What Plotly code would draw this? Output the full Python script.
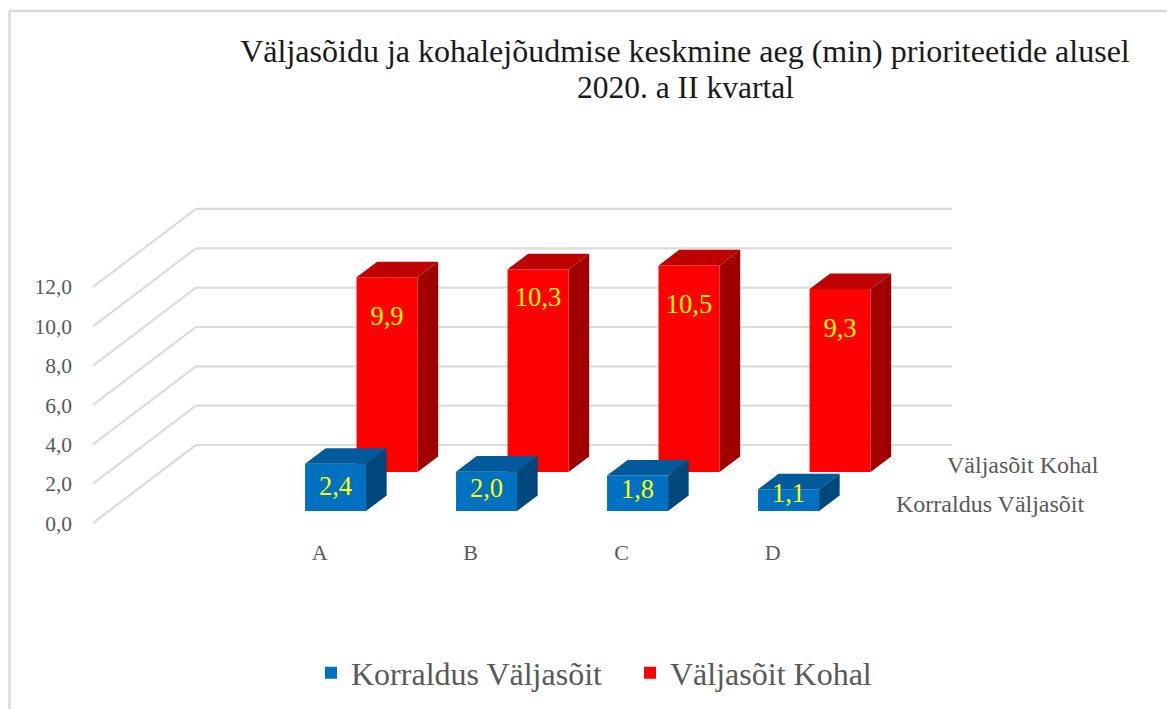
import plotly.graph_objects as go

categories = ["A", "B", "C", "D"]
series_names = ["Korraldus Väljasõit", "Väljasõit Kohal"]
korraldus = [2.4, 2.0, 1.8, 1.1]
kohal = [9.9, 10.3, 10.5, 9.3]
korraldus_labels = ["2,4", "2,0", "1,8", "1,1"]
kohal_labels = ["9,9", "10,3", "10,5", "9,3"]
y_ticks = [0, 2, 4, 6, 8, 10, 12]
y_tick_labels = ["0,0", "2,0", "4,0", "6,0", "8,0", "10,0", "12,0"]
title_lines = ["Väljasõidu ja kohalejõudmise keskmine aeg (min) prioriteetide alusel", "2020. a II kvartal"]

W, H = 1167, 709
L = 73
CAT_PX = 151.0
VAL_PX = 19.67
X_A_PX = 319.7
Y0_PX = 523.0
DEPTH_X = 103.0 / CAT_PX
DEPTH_Y = 78.0 / VAL_PX
BAR_W = 61.0 / CAT_PX
BAR_D = 0.2


def px(x):
    return (x - L) / (W - L)


def py(y):
    return 1 - y / H


xr = [(L - X_A_PX) / CAT_PX, (W - X_A_PX) / CAT_PX]
yr = [(Y0_PX - H) / VAL_PX, Y0_PX / VAL_PX]

fig = go.Figure()
shapes = []
front_x = (93 - X_A_PX) / CAT_PX
back_x = front_x + DEPTH_X
end_x = (952 - X_A_PX) / CAT_PX
for t in y_ticks:
    shapes.append(dict(type="line", xref="x", yref="y", layer="below",
                       x0=front_x, y0=t, x1=back_x, y1=t + DEPTH_Y,
                       line=dict(color="#dcdcdc", width=2.2)))
    shapes.append(dict(type="line", xref="x", yref="y", layer="below",
                       x0=back_x, y0=t + DEPTH_Y, x1=end_x, y1=t + DEPTH_Y,
                       line=dict(color="#dcdcdc", width=2.2)))
shapes.append(dict(type="line", xref="paper", yref="paper", x0=px(9.5), y0=py(11), x1=px(9.5), y1=py(709),
                   line=dict(color="#d9d9d9", width=2.5)))
shapes.append(dict(type="line", xref="paper", yref="paper", x0=px(9), y0=py(11), x1=px(1167), y1=py(11),
                   line=dict(color="#d9d9d9", width=2.5)))


def add_series(values, labels, name, depth, front, top, side, label_y):
    n = len(values)
    shift_x = depth * DEPTH_X
    shift_y = depth * DEPTH_Y
    xs = [i + shift_x for i in range(n)]
    fig.add_trace(go.Bar(x=xs, y=values, base=[shift_y] * n, width=BAR_W, name=name,
                         marker=dict(color=front, line=dict(width=0)), showlegend=True,
                         hoverinfo="skip"))
    ddx = BAR_D * DEPTH_X
    ddy = BAR_D * DEPTH_Y
    for xc, v in zip(xs, values):
        x0, x1 = xc - BAR_W / 2, xc + BAR_W / 2
        yb, yt = shift_y, shift_y + v
        fig.add_trace(go.Scatter(x=[x0, x1, x1 + ddx, x0 + ddx, x0], y=[yt, yt, yt + ddy, yt + ddy, yt],
                                 mode="lines", fill="toself", fillcolor=top, line=dict(width=0),
                                 showlegend=False, hoverinfo="skip"))
        fig.add_trace(go.Scatter(x=[x1, x1 + ddx, x1 + ddx, x1, x1], y=[yb, yb + ddy, yt + ddy, yt, yb],
                                 mode="lines", fill="toself", fillcolor=side, line=dict(width=0),
                                 showlegend=False, hoverinfo="skip"))
    fig.add_trace(go.Scatter(x=xs, y=[shift_y + label_y(i, v) for i, v in enumerate(values)],
                             mode="text", text=labels, textposition="middle center",
                             textfont=dict(family="Liberation Serif", size=26.5, color="#FFFF00"),
                             showlegend=False, hoverinfo="skip"))


add_series(kohal, kohal_labels, series_names[1], 0.654, "#FF0000", "#BE0000", "#A00000",
           lambda i, v: v - (1.5 if i == 1 else 2.1))
add_series(korraldus, korraldus_labels, series_names[0], 0.154, "#0070C0", "#005A9B", "#00477C",
           lambda i, v: v * 0.3 + 0.45)

grey = "#595959"
font = "Liberation Serif"
fig.add_annotation(xref="paper", yref="paper", x=px(1101), y=py(465), xanchor="right", yanchor="middle",
                   text=series_names[1], showarrow=False, font=dict(family=font, size=24, color=grey))
fig.add_annotation(xref="paper", yref="paper", x=px(1087), y=py(504), xanchor="right", yanchor="middle",
                   text=series_names[0], showarrow=False, font=dict(family=font, size=24, color=grey))
fig.add_annotation(xref="paper", yref="paper", x=px(685), y=py(87), xanchor="center", yanchor="middle",
                   text=title_lines[1], showarrow=False, font=dict(family=font, size=31.5, color="#1a1a1a"))

fig.update_layout(
    width=W, height=H, autosize=False,
    margin=dict(l=L, r=0, t=0, b=0, pad=0),
    paper_bgcolor="white", plot_bgcolor="rgba(0,0,0,0)",
    barmode="overlay", shapes=shapes,
    title=dict(text=title_lines[0], x=685 / W, xanchor="center", y=py(51), yanchor="middle",
               font=dict(family=font, size=32, color="#1a1a1a")),
    xaxis=dict(range=xr, showgrid=False, zeroline=False, showline=False, anchor="free",
               position=py(537), tickmode="array", tickvals=list(range(len(categories))),
               ticktext=categories, ticks="", tickfont=dict(family=font, size=22, color=grey)),
    yaxis=dict(range=yr, showgrid=False, zeroline=False, showline=False, tickmode="array",
               tickvals=y_ticks, ticktext=y_tick_labels, ticks="",
               tickfont=dict(family=font, size=21.5, color=grey)),
    legend=dict(orientation="h", x=px(311), xanchor="left", y=py(673), yanchor="middle",
                traceorder="reversed", entrywidth=274, entrywidthmode="pixels",
                font=dict(family=font, size=32, color=grey), bgcolor="rgba(0,0,0,0)"),
)
fig.write_html("out.html", config={"displayModeBar": False},
               post_script="document.body.style.margin='0';document.body.style.overflow='hidden';")
